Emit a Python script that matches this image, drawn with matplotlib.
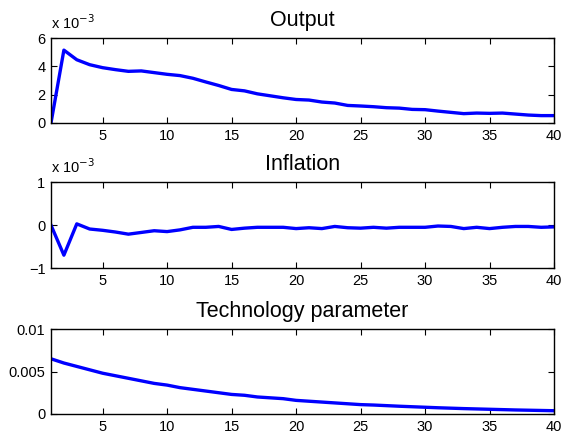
import matplotlib
matplotlib.use('Agg')
import matplotlib.pyplot as plt
from matplotlib.ticker import FuncFormatter

# impulse responses, horizon 1..40
periods = list(range(1, 41))

output = [0.0, 5.15, 4.47, 4.12, 3.91, 3.77, 3.65, 3.68, 3.56, 3.44,
          3.35, 3.16, 2.90, 2.65, 2.37, 2.27, 2.06, 1.92, 1.78, 1.66,
          1.62, 1.48, 1.41, 1.24, 1.20, 1.15, 1.08, 1.05, 0.96, 0.94,
          0.84, 0.75, 0.66, 0.70, 0.68, 0.70, 0.63, 0.56, 0.52, 0.52]
output = [v * 1e-3 for v in output]

inflation = [0.0, -0.70, 0.03, -0.09, -0.12, -0.16, -0.21, -0.17, -0.13, -0.15,
             -0.11, -0.05, -0.05, -0.03, -0.10, -0.07, -0.05, -0.05, -0.05, -0.08,
             -0.06, -0.08, -0.03, -0.06, -0.07, -0.05, -0.07, -0.05, -0.05, -0.05,
             -0.02, -0.03, -0.08, -0.05, -0.08, -0.05, -0.03, -0.03, -0.05, -0.04]
inflation = [v * 1e-3 for v in inflation]

technology = [0.0065, 0.0060, 0.0056, 0.0052, 0.0048, 0.0045, 0.0042, 0.0039, 0.0036, 0.0034,
              0.0031, 0.0029, 0.0027, 0.0025, 0.0023, 0.0022, 0.0020, 0.0019, 0.0018, 0.0016,
              0.0015, 0.0014, 0.0013, 0.0012, 0.0011, 0.00105, 0.00098, 0.00091, 0.00085, 0.00079,
              0.00073, 0.00068, 0.00063, 0.00059, 0.00055, 0.00051, 0.00047, 0.00044, 0.00041, 0.00038]

titles = ["Output", "Inflation", "Technology parameter"]
xticks = [5, 10, 15, 20, 25, 30, 35, 40]

plt.rcParams['font.family'] = ['Liberation Sans', 'DejaVu Sans']

fig = plt.figure(figsize=(5.64, 4.33), dpi=100)

# panel boxes in figure fractions (left, bottom, width, height)
boxes = [(0.0904, 0.716, 0.892, 0.196),
         (0.0904, 0.381, 0.892, 0.198),
         (0.0904, 0.044, 0.892, 0.196)]


def setup(ax, title):
    ax.set_xlim(1, 40)
    ax.set_xticks(xticks)
    ax.tick_params(direction='in', top=True, right=True, length=4, width=0.8,
                   labelsize=10.5, pad=4, colors='black')
    for s in ax.spines.values():
        s.set_linewidth(1.0)
        s.set_color('black')
    ax.set_title(title, fontsize=15.5, pad=8.5)


# Output
ax1 = fig.add_axes(boxes[0])
ax1.plot(periods, output, color='#0000ff', lw=2.4)
setup(ax1, titles[0])
ax1.set_ylim(0, 6e-3)
ax1.set_yticks([0, 2e-3, 4e-3, 6e-3])
ax1.yaxis.set_major_formatter(FuncFormatter(lambda v, p: '%g' % round(v * 1e3, 6)))
ax1.text(0.0, 1.07, r'x 10$^{-3}$', transform=ax1.transAxes, fontsize=10.5, ha='left', va='bottom')

# Inflation
ax2 = fig.add_axes(boxes[1])
ax2.plot(periods, inflation, color='#0000ff', lw=2.4)
setup(ax2, titles[1])
ax2.set_ylim(-1e-3, 1e-3)
ax2.set_yticks([-1e-3, 0, 1e-3])
ax2.yaxis.set_major_formatter(FuncFormatter(lambda v, p: ('%g' % round(v * 1e3, 6)).replace('-', '\u2212')))
ax2.text(0.0, 1.07, r'x 10$^{-3}$', transform=ax2.transAxes, fontsize=10.5, ha='left', va='bottom')

# Technology parameter
ax3 = fig.add_axes(boxes[2])
ax3.plot(periods, technology, color='#0000ff', lw=2.4)
setup(ax3, titles[2])
ax3.set_ylim(0, 0.01)
ax3.set_yticks([0, 0.005, 0.01])
ax3.set_yticklabels(['0', '0.005', '0.01'])

fig.savefig('out.png', dpi=100)
plt.close(fig)
